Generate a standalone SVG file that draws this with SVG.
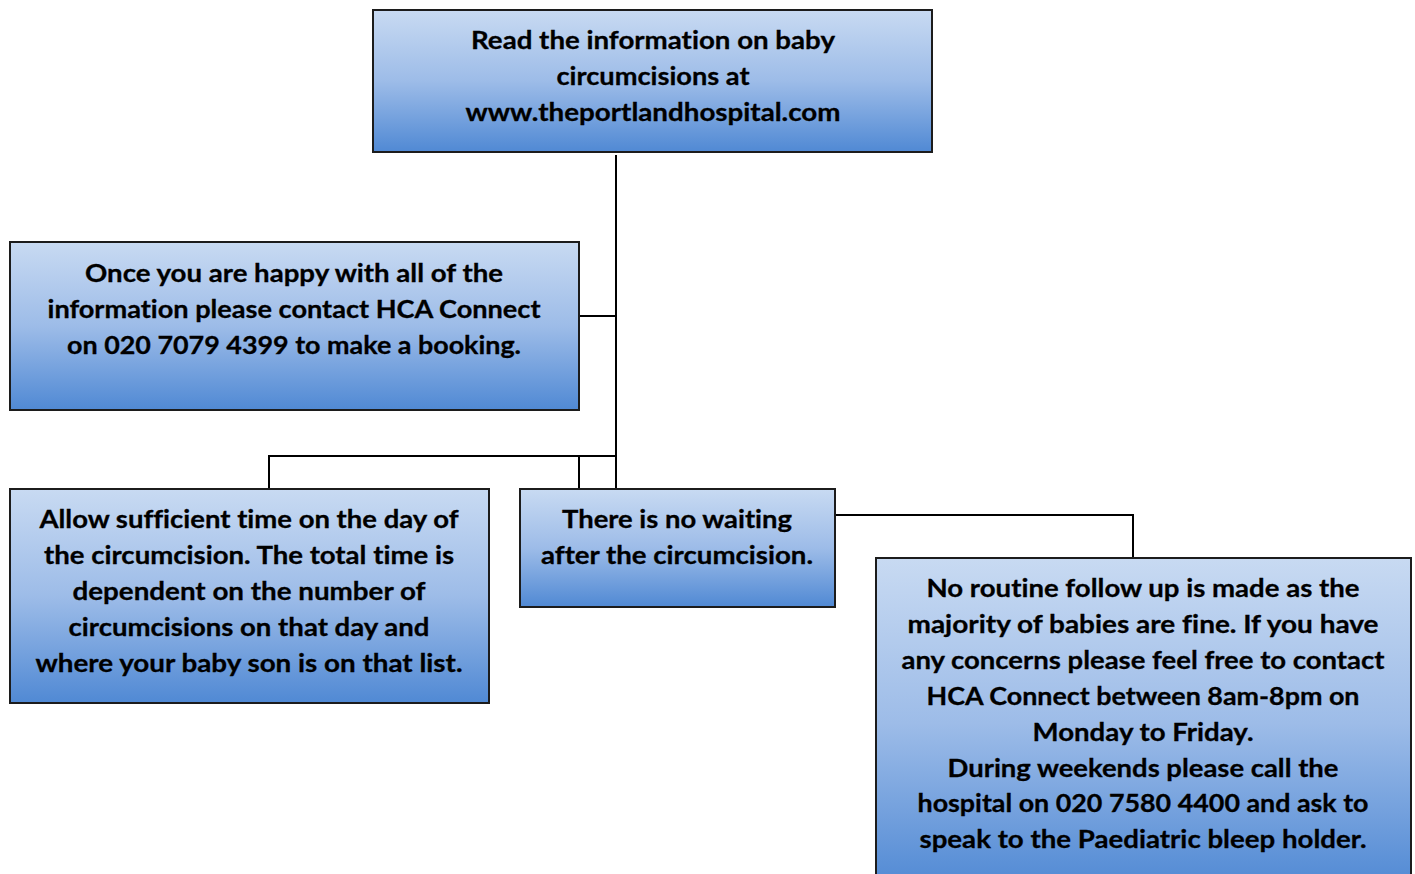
<svg xmlns="http://www.w3.org/2000/svg" width="1415" height="874" viewBox="0 0 1415 874">
<defs>
<linearGradient id="g" x1="0" y1="0" x2="0" y2="1">
<stop offset="0" stop-color="#c8daf2"/>
<stop offset="0.5" stop-color="#9dbce8"/>
<stop offset="1" stop-color="#5089d4"/>
</linearGradient>
</defs>
<style>
.box{fill:url(#g);stroke:#1c1c1c;stroke-width:2}
.t{font-family:Lato,"Liberation Sans",sans-serif;font-weight:bold;font-size:25px;fill:#000;text-anchor:middle;font-variant-ligatures:none;font-feature-settings:"liga" 0;stroke:#000;stroke-width:0.3}
.c{fill:none;stroke:#000;stroke-width:2}
</style>
<rect width="1415" height="874" fill="#fff"/>
<g id="connectors">
<path class="c" d="M616,155 V489"/>
<path class="c" d="M579,316 H616"/>
<path class="c" d="M269,489 V456 H616"/>
<path class="c" d="M579,456 V489"/>
<path class="c" d="M835,515 H1133 V558"/>
</g>
<g id="n1">
<rect class="box" x="373" y="10" width="559" height="142"/>
<text class="t" x="653" y="49" textLength="364" lengthAdjust="spacingAndGlyphs">Read the information on baby</text>
<text class="t" x="653" y="85" textLength="193" lengthAdjust="spacingAndGlyphs">circumcisions at</text>
<text class="t" x="653" y="121" textLength="375" lengthAdjust="spacingAndGlyphs">www.theportlandhospital.com</text>
</g>
<g id="n2">
<rect class="box" x="10" y="242" width="569" height="168"/>
<text class="t" x="294" y="282" textLength="418" lengthAdjust="spacingAndGlyphs">Once you are happy with all of the</text>
<text class="t" x="294" y="318" textLength="493" lengthAdjust="spacingAndGlyphs">information please contact HCA Connect</text>
<text class="t" x="294" y="354" textLength="454" lengthAdjust="spacingAndGlyphs">on 020 7079 4399 to make a booking.</text>
</g>
<g id="n3">
<rect class="box" x="10" y="489" width="479" height="214"/>
<text class="t" x="249" y="528" textLength="419" lengthAdjust="spacingAndGlyphs">Allow sufficient time on the day of</text>
<text class="t" x="249" y="564" textLength="410" lengthAdjust="spacingAndGlyphs">the circumcision. The total time is</text>
<text class="t" x="249" y="600" textLength="353" lengthAdjust="spacingAndGlyphs">dependent on the number of</text>
<text class="t" x="249" y="636" textLength="361" lengthAdjust="spacingAndGlyphs">circumcisions on that day and</text>
<text class="t" x="249" y="672" textLength="427" lengthAdjust="spacingAndGlyphs">where your baby son is on that list.</text>
</g>
<g id="n4">
<rect class="box" x="520" y="489" width="315" height="118"/>
<text class="t" x="677" y="528" textLength="230" lengthAdjust="spacingAndGlyphs">There is no waiting</text>
<text class="t" x="677" y="564" textLength="272" lengthAdjust="spacingAndGlyphs">after the circumcision.</text>
</g>
<g id="n5">
<rect class="box" x="876" y="558" width="535" height="330"/>
<text class="t" x="1143" y="597" textLength="433" lengthAdjust="spacingAndGlyphs">No routine follow up is made as the</text>
<text class="t" x="1143" y="633" textLength="471" lengthAdjust="spacingAndGlyphs">majority of babies are fine. If you have</text>
<text class="t" x="1143" y="669" textLength="483" lengthAdjust="spacingAndGlyphs">any concerns please feel free to contact</text>
<text class="t" x="1143" y="705" textLength="433" lengthAdjust="spacingAndGlyphs">HCA Connect between 8am-8pm on</text>
<text class="t" x="1143" y="741" textLength="221" lengthAdjust="spacingAndGlyphs">Monday to Friday.</text>
<text class="t" x="1143" y="777" textLength="391" lengthAdjust="spacingAndGlyphs">During weekends please call the</text>
<text class="t" x="1143" y="812" textLength="451" lengthAdjust="spacingAndGlyphs">hospital on 020 7580 4400 and ask to</text>
<text class="t" x="1143" y="848" textLength="447" lengthAdjust="spacingAndGlyphs">speak to the Paediatric bleep holder.</text>
</g>
</svg>
